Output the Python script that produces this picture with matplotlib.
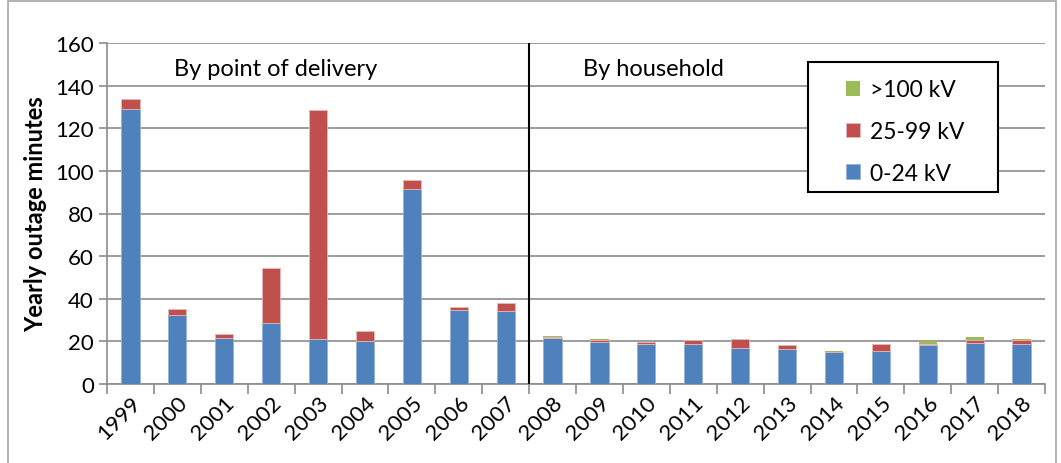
import numpy as np
import matplotlib.pyplot as plt
from matplotlib.patches import Rectangle

years = [str(y) for y in range(1999, 2019)]
kv_0_24 = [129.1, 32.3, 21.6, 28.8, 21.3, 20.3, 91.4, 34.5, 34.2,
           21.4, 19.5, 18.9, 18.6, 16.7, 16.5, 14.8, 15.7, 18.3, 19.2, 18.9]
kv_25_99 = [4.7, 2.9, 1.7, 25.6, 107.3, 4.4, 4.1, 1.7, 3.6,
            0.8, 1.3, 0.8, 1.9, 4.3, 1.6, 0.3, 3.0, 0.7, 1.6, 1.9]
kv_100 = [0, 0, 0, 0, 0, 0, 0, 0, 0,
          0.1, 0.3, 0.1, 0.3, 0.3, 0.3, 0.3, 0.3, 1.0, 1.4, 0.1]

plt.rcParams['font.family'] = ['Lato', 'DejaVu Sans']

fig = plt.figure(figsize=(10.61, 4.64), dpi=100)
# outer chart frame
fig.patches.append(Rectangle((8/1061, -0.05), 1048/1061, 1.045, transform=fig.transFigure,
                             fill=False, edgecolor='#a6a6a6', linewidth=1.2))
ax = fig.add_axes([107/1061, 1-385/464, (1045-107)/1061, (385-44)/464])

x = np.arange(len(years))
w = 0.39
blue, red, green = '#4f81bd', '#c0504d', '#9bbb59'
b1 = ax.bar(x, kv_0_24, w, color=blue, edgecolor='#95b3d7', linewidth=0.6, zorder=3)
b2 = ax.bar(x, kv_25_99, w, bottom=kv_0_24, color=red, edgecolor='#e6b9b8', linewidth=0.6, zorder=3)
bottom3 = np.array(kv_0_24) + np.array(kv_25_99)
b3 = ax.bar(x, kv_100, w, bottom=bottom3, color=green, linewidth=0, zorder=3)

ax.set_xlim(-0.5, len(years) - 0.5)
ax.set_ylim(0, 160)
ax.set_yticks(range(0, 161, 20))
ax.yaxis.grid(True, color='#8c8c8c', linewidth=1.2, zorder=0)
ax.set_axisbelow(True)

ax.set_xticks(x)
ax.set_xticklabels(years, rotation=45, ha='right', rotation_mode='anchor', fontsize=16)
ax.tick_params(axis='x', length=0, pad=6)
ax.set_xticks(np.arange(-0.5, len(years)), minor=True)
ax.tick_params(axis='x', which='minor', length=7, color='#8c8c8c', width=1.2)
ax.tick_params(axis='y', labelsize=16, length=6, color='#8c8c8c', width=1.2)

for s in ['top', 'right']:
    ax.spines[s].set_visible(False)
for s in ['left', 'bottom']:
    ax.spines[s].set_color('#8c8c8c')
    ax.spines[s].set_linewidth(1.2)

ax.set_ylabel('Yearly outage minutes', fontsize=17, fontweight='bold', labelpad=6)

ax.axvline(8.5, color='black', linewidth=1.5, zorder=4)
ax.text(0.92, 148, 'By point of delivery', fontsize=17, va='center')
ax.text(9.65, 148, 'By household', fontsize=17, va='center')

# legend box drawn separately so the padding can match
ax.add_patch(Rectangle((0.747, 0.563), 0.203, 0.381, transform=ax.transAxes,
                       facecolor='white', edgecolor='black', linewidth=1.5, zorder=5))
leg = ax.legend([b3, b2, b1], ['>100 kV', '25-99 kV', '0-24 kV'],
                loc='upper left', bbox_to_anchor=(0.788, 0.893),
                fontsize=16.5, frameon=False,
                handlelength=0.6, handleheight=0.6, labelspacing=0.9,
                borderpad=0, handletextpad=0.45, borderaxespad=0)
leg.set_zorder(6)

fig.savefig('out.png', dpi=100)
